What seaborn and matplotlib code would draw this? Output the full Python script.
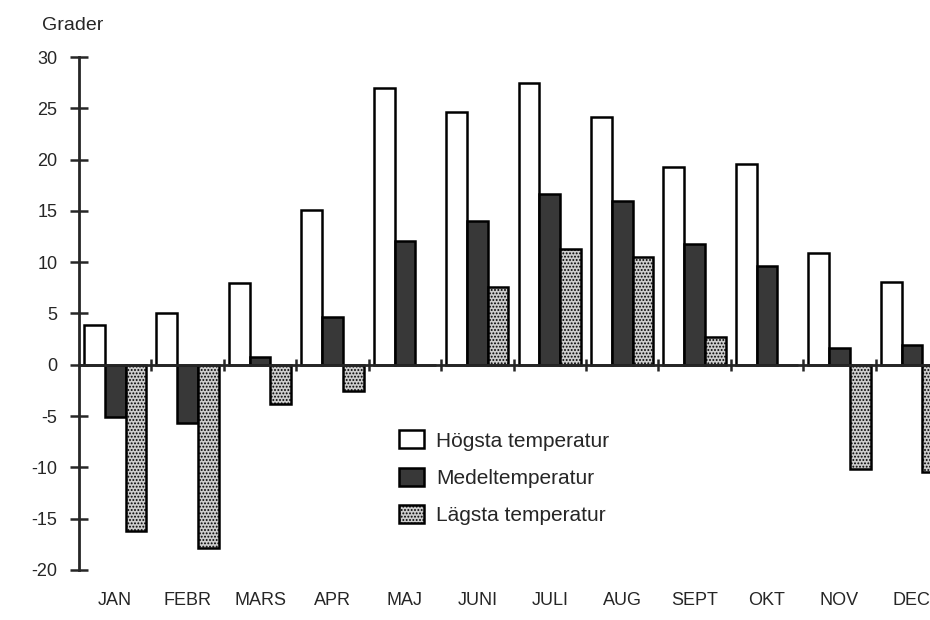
import numpy as np
import pandas as pd
import matplotlib
matplotlib.use("Agg")
import matplotlib.pyplot as plt
import seaborn as sns

# Temperatures per month (grader)
months = ['JAN', 'FEBR', 'MARS', 'APR', 'MAJ', 'JUNI',
          'JULI', 'AUG', 'SEPT', 'OKT', 'NOV', 'DEC']
hogsta = [3.9, 5.0, 8.0, 15.1, 27.0, 24.6, 27.5, 24.2, 19.3, 19.6, 10.9, 8.1]
medel = [-5.1, -5.7, 0.8, 4.7, 12.1, 14.0, 16.6, 16.0, 11.8, 9.6, 1.6, 1.9]
lagsta = [-16.2, -17.9, -3.8, -2.6, 0.0, 7.6, 11.3, 10.5, 2.7, 0.0, -10.2, -10.4]

series = ['Högsta temperatur', 'Medeltemperatur', 'Lägsta temperatur']
yticks = list(range(-20, 31, 5))

df = pd.DataFrame({'month': months, series[0]: hogsta,
                   series[1]: medel, series[2]: lagsta})
long_df = df.melt(id_vars='month', var_name='serie', value_name='grader')

sns.set_style('white')
plt.rcParams['font.family'] = ['Liberation Sans', 'DejaVu Sans']
plt.rcParams['axes.unicode_minus'] = False
plt.rcParams['hatch.linewidth'] = 0.9

fig = plt.figure(figsize=(9.3, 6.2), dpi=100)
ax = fig.add_axes([79 / 930, 50 / 620, 851 / 930, 513 / 620])

palette = {series[0]: 'white', series[1]: '#383838', series[2]: '#cccccc'}
sns.barplot(data=long_df, x='month', y='grader', hue='serie',
            order=months, hue_order=series, palette=palette,
            saturation=1, width=0.86, gap=0,
            edgecolor='black', linewidth=1.8, ax=ax)

# stippled fill for the lowest temperature
for bar in ax.containers[2]:
    bar.set_hatch('.....')

ax.get_legend().remove()
ax.legend(ax.containers, series, loc='upper left',
          bbox_to_anchor=(389 / 930, 1 - 420 / 620),
          bbox_transform=fig.transFigure, frameon=False,
          fontsize=15, handlelength=1.2, handleheight=0.95,
          labelspacing=0.82, handletextpad=0.55, borderpad=0)

ax.set_xlim(-0.5, 11.25)
ax.set_ylim(-20, 30)
ax.set_yticks(yticks)
ax.set_xlabel('')
ax.set_ylabel('')

for side in ['top', 'right']:
    ax.spines[side].set_visible(False)
ax.spines['left'].set_linewidth(2)
ax.spines['bottom'].set_position(('data', 0))
ax.spines['bottom'].set_linewidth(2)

# small marks between the month groups on the zero line
ax.set_xticks(np.arange(0.5, 11, 1))
ax.set_xticklabels([])
ax.tick_params(bottom=True, left=True)
ax.tick_params(axis='x', direction='inout', length=9, width=1.8)
ax.tick_params(axis='y', direction='inout', length=13, width=1.8,
               pad=9, labelsize=13)

sec = ax.secondary_xaxis('bottom')
sec.set_xticks(range(len(months)), labels=months)
sec.tick_params(bottom=False, length=0, pad=16, labelsize=13)
sec.spines['bottom'].set_visible(False)

fig.text(42 / 930, 1 - 25 / 620, 'Grader', fontsize=14,
         ha='left', va='center')

plt.savefig('out.png', dpi=100, facecolor='white')
